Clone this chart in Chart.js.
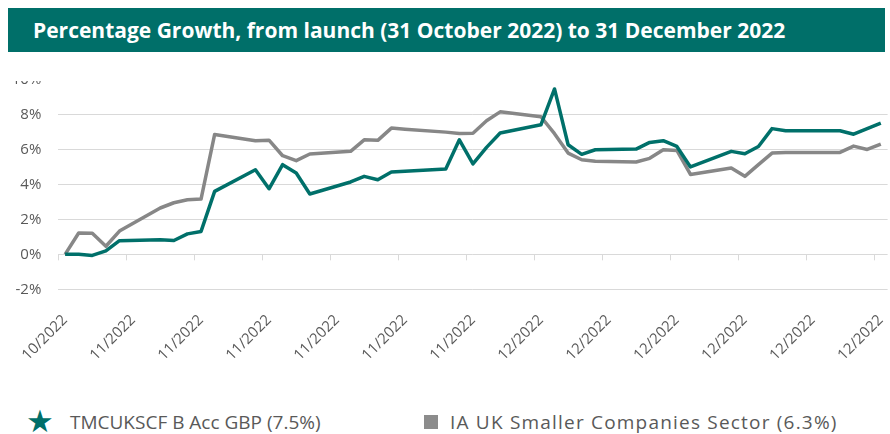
<!DOCTYPE html>
<html>
<head>
<meta charset="utf-8">
<script src="https://cdn.jsdelivr.net/npm/chart.js@4.4.1/dist/chart.umd.min.js"></script>
<style>
  body { margin: 0; background: #fff; font-family: 'Open Sans', sans-serif; }
  #wrap { position: relative; width: 890px; height: 434px; overflow: hidden; }
  #chart { position: absolute; left: 0; top: 0; }
  /* white strip over the top of the canvas, it cuts the 10% label like the original */
  #head { position: absolute; left: 0; top: 0; width: 890px; height: 81px; background: #fff; z-index: 2; }
  #title { position: absolute; left: 8px; top: 8px; width: 877px; height: 44px; background: #006f69;
           color: #fff; font-weight: 700; font-size: 21px; line-height: 44px; padding-left: 25px; box-sizing: border-box; }
  #legend { position: absolute; left: 0; top: 405px; width: 890px; height: 30px; color: #595959; font-size: 19px; }
  .item { position: absolute; top: 0; line-height: 34px; white-space: nowrap; }
  .star { color: #006f69; font-family: 'DejaVu Sans'; font-size: 31px; position: absolute; left: 26px; top: -1px; line-height: 34px; }
  .box { position: absolute; left: 424px; top: 10px; width: 14px; height: 14px; background: #8c8c8c; }
</style>
</head>
<body>
<div id="wrap">
  <canvas id="chart" width="890" height="380"></canvas>
  <div id="head"><div id="title">Percentage Growth, from launch (31 October 2022) to 31 December 2022</div></div>
  <div id="legend">
    <span class="star">&#9733;</span>
    <span class="item" id="lab1" style="left:70px"></span>
    <span class="box"></span>
    <span class="item" id="lab2" style="left:450px; letter-spacing:1.2px"></span>
  </div>
</div>
<script>
// one category per calendar day, 31/10/2022 .. 30/12/2022 (weekends/holidays = null)
const days = [];
for (let d = new Date(2022, 9, 31); d <= new Date(2022, 11, 30); d.setDate(d.getDate() + 1)) {
  days.push(d.getDate() + '/' + (d.getMonth() + 1) + '/2022');
}

// labels shown on every 5th day
const tickLabels = ['10/2022', '11/2022', '11/2022', '11/2022', '11/2022', '11/2022', '11/2022',
                    '12/2022', '12/2022', '12/2022', '12/2022', '12/2022', '12/2022'];

const seriesNames = ['TMCUKSCF B Acc GBP (7.5%)', 'IA UK Smaller Companies Sector (6.3%)'];

// TMCUKSCF B Acc GBP, % growth
const fundValues = [
  0, 0.0, -0.06, 0.2, 0.78, null, null,
  0.83, 0.79, 1.17, 1.31, 3.6, null, null,
  4.84, 3.75, 5.13, 4.65, 3.45, null, null,
  4.14, 4.46, 4.27, 4.71, 4.75, null, null,
  4.88, 6.55, 5.17, 6.12, 6.94, null, null,
  7.41, 9.46, 6.27, 5.72, 5.98, null, null,
  6.02, 6.4, 6.5, 6.17, 5.0, null, null,
  5.89, 5.75, 6.17, 7.19, 7.07, null, null,
  null, 7.07, 6.87, 7.19, 7.5
];

// IA UK Smaller Companies sector, % growth
const sectorValues = [
  0, 1.22, 1.2, 0.46, 1.33, null, null,
  2.65, 2.95, 3.12, 3.16, 6.86, null, null,
  6.5, 6.53, 5.64, 5.36, 5.74, null, null,
  5.89, 6.55, 6.52, 7.22, 7.16, null, null,
  6.99, 6.91, 6.93, 7.64, 8.15, null, null,
  7.87, 6.9, 5.79, 5.41, 5.33, null, null,
  5.28, 5.49, 5.98, 5.94, 4.57, null, null,
  4.94, 4.46, 5.13, 5.79, 5.83, null, null,
  null, 5.83, 6.19, 6.0, 6.31
];

document.getElementById('lab1').textContent = seriesNames[0];
document.getElementById('lab2').textContent = seriesNames[1];

Chart.defaults.font.family = "'Open Sans', sans-serif";
Chart.defaults.color = '#595959';

// axis line at 0% with small tick marks every 5 days (excel style)
const zeroAxis = {
  id: 'zeroAxis',
  beforeDatasetsDraw(chart) {
    const x = chart.scales.x, y = chart.scales.y, ctx = chart.ctx;
    const y0 = y.getPixelForValue(0);
    const half = (x.getPixelForValue(1) - x.getPixelForValue(0)) / 2;
    ctx.save();
    ctx.strokeStyle = '#d9d9d9';
    ctx.lineWidth = 1;
    ctx.beginPath();
    for (let i = 0; i < days.length; i += 5) {
      const px = Math.round(x.getPixelForValue(i) - half) + 0.5;
      ctx.moveTo(px, y0);
      ctx.lineTo(px, y0 + 6);
    }
    ctx.stroke();
    ctx.restore();
  }
};

new Chart(document.getElementById('chart'), {
  type: 'line',
  data: {
    labels: days,
    datasets: [
      { label: seriesNames[0], data: fundValues, borderColor: '#00706a', borderWidth: 3.5,
        pointRadius: 0, tension: 0, spanGaps: true, borderJoinStyle: 'round' },
      { label: seriesNames[1], data: sectorValues, borderColor: '#878787', borderWidth: 3.5,
        pointRadius: 0, tension: 0, spanGaps: true, borderJoinStyle: 'round' }
    ]
  },
  options: {
    responsive: false,
    animation: false,
    layout: { padding: { top: 79.5, left: 11.3, right: 2.4, bottom: 0 } },
    plugins: { legend: { display: false }, tooltip: { enabled: false } },
    scales: {
      x: {
        offset: true,
        grid: { display: false },
        border: { display: false },
        afterFit(scale) { scale.height = 90.7; scale.paddingRight = 0; scale.paddingLeft = 0; },
        ticks: {
          autoSkip: false, minRotation: 45, maxRotation: 45, padding: 14,
          font: { size: 15 }, color: '#595959',
          callback: (v, i) => (i % 5 === 0 ? tickLabels[i / 5] : '')
        }
      },
      y: {
        min: -2, max: 10,
        afterFit(scale) { scale.width = 47; },
        grid: { color: '#d9d9d9', drawTicks: false },
        border: { display: false },
        ticks: { stepSize: 2, padding: 17, font: { size: 15 }, color: '#595959', callback: v => v + '%' }
      }
    }
  },
  plugins: [zeroAxis]
});
</script>
</body>
</html>
